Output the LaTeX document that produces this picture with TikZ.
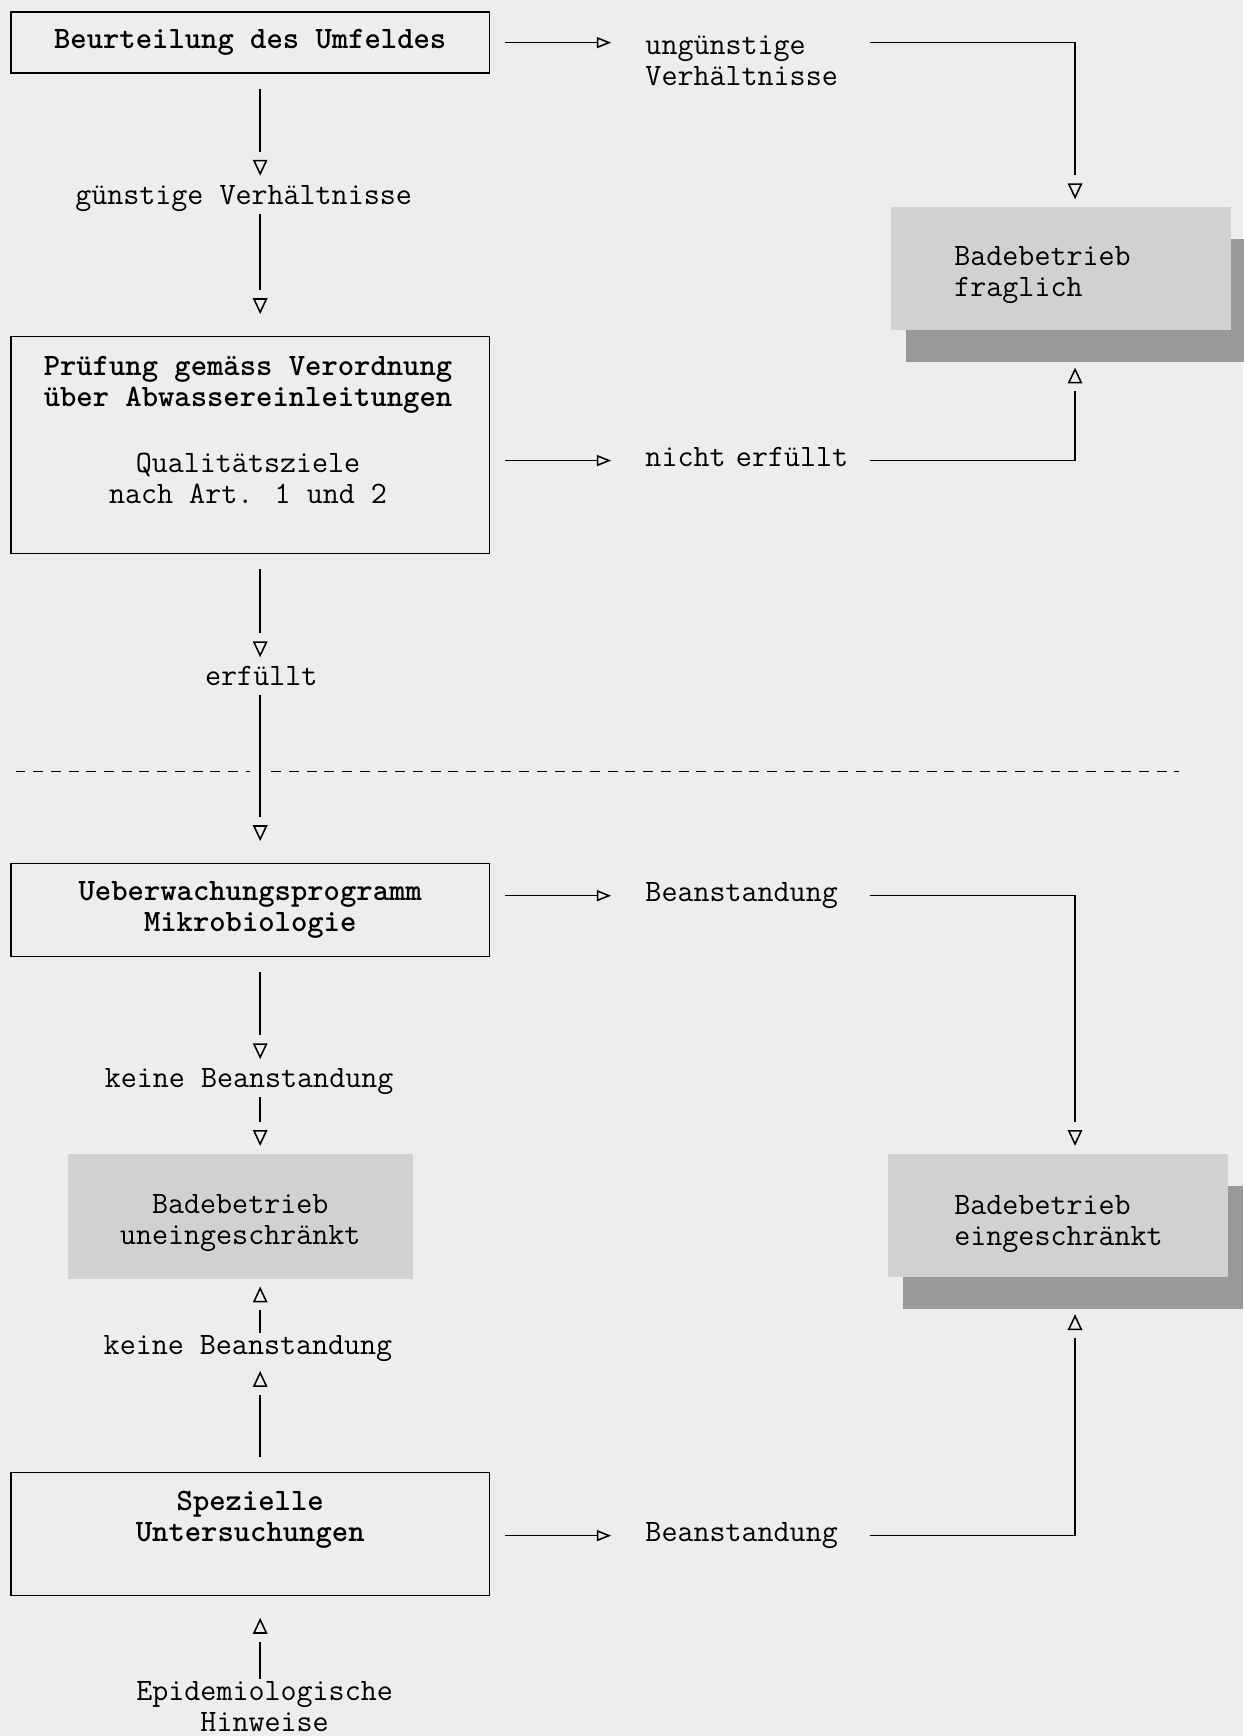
\documentclass[tikz,border=0pt]{standalone}
\usepackage{tikz}
\usetikzlibrary{arrows.meta,shadows}

% offenes Dreieck, Linie endet mit Abstand davor
\pgfdeclarearrow{
  name = gaptri,
  setup code = {
    \pgfarrowssettipend{0pt}
    \pgfarrowssetbackend{-6.8pt}
    \pgfarrowssetlineend{-11.3pt}
  },
  drawing code = {
    \pgfpathmoveto{\pgfqpoint{0pt}{0pt}}
    \pgfpathlineto{\pgfqpoint{-6.8pt}{3.2pt}}
    \pgfpathlineto{\pgfqpoint{-6.8pt}{-3.2pt}}
    \pgfpathclose
    \pgfusepathqstroke
  }
}

\newcommand{\schreib}{\fontsize{16}{15.9}\selectfont\ttfamily}

\begin{document}
\begin{tikzpicture}[x=0.02cm, y=-0.02cm, line width=0.8pt,
    every node/.style={font=\schreib},
    kasten/.style={draw, minimum width=8.64cm, inner sep=0pt, outer sep=0.28cm, font=\schreib\bfseries, align=center},
    lbl/.style={inner sep=0pt, outer sep=0.05cm, text height=0.34cm, text depth=0.12cm},
    mlbl/.style={inner sep=0pt, outer sep=0.05cm, align=center},
    rlbl/.style={anchor=west, text width=4cm, align=left},
    grau/.style={fill=black!18, minimum width=6.14cm, minimum height=2.22cm, inner sep=0pt},
    schatten/.style={drop shadow={shadow xshift=0.28cm, shadow yshift=-0.58cm, fill=black!40, opacity=1}},
    pfeil/.style={-gaptri, shorten >=0.16cm},
    quer/.style={-{Triangle[open, length=7.4pt, width=5.7pt]}, shorten >=0.57cm},
    hoch/.style={shorten >=0.7cm},
    trenn/.style={dash pattern=on 0.18cm off 0.14cm}
  ]
  \path[use as bounding box] (0,0) rectangle (1123,1568);
  \fill[black!7] (0,0) rectangle (1123,1568);
  \coordinate (axis) at (235,0);
  \coordinate (axisR) at (971,0);

  % linke Spalte
  \node[kasten, minimum height=1.1cm] (beurt) at (226,38.5) {Beurteilung des Umfeldes};
  \node[lbl] (guenst) at (220,179) {günstige Verhältnisse};
  \node[kasten, minimum height=3.92cm] (pruef) at (226,402) {};
  \node[mlbl, font=\schreib\bfseries] (pruefT) at (224,347.5) {Prüfung gemäss Verordnung\\über Abwassereinleitungen};
  \node[mlbl] (ziele) at (224,432) {Qualitätsziele\\nach Art. 1 und 2};
  \node[lbl] (erf) at (236,614) {erfüllt};
  \node[kasten, minimum height=1.68cm] (ueberw) at (226,822) {Ueberwachungsprogramm\\Mikrobiologie};
  \node[lbl] (keine1) at (225,977) {keine Beanstandung};
  \node[grau, minimum width=6.24cm, minimum height=2.26cm] (uneing) at (217,1098.5) {};
  \node[mlbl] (uneingT) at (217,1104.5) {Badebetrieb\\uneingeschränkt};
  \node[lbl] (keine2) at (224,1218) {keine Beanstandung};
  \node[kasten, minimum height=2.22cm] (spez) at (226,1385.5) {};
  \node[mlbl, font=\schreib\bfseries] (spezT) at (226,1372.5) {Spezielle\\Untersuchungen};
  \node[mlbl] (epi) at (239,1541.5) {Epidemiologische\\Hinweise};

  % rechte Spalte
  \node[mlbl, rlbl] (unguenst) at (580.5,54.5) {ungünstige\\Verhältnisse};
  \node[grau, schatten] (fragl) at (958,242.5) {};
  \node[mlbl, rlbl] (fraglT) at (859.5,248.5) {Badebetrieb\\fraglich};
  \node[lbl, rlbl] (nicht) at (580.5,416) {nicht erfüllt};
  \node[lbl, rlbl] (beanst1) at (580.5,809) {Beanstandung};
  \node[grau, schatten] (eing) at (955.5,1097.5) {};
  \node[mlbl, rlbl] (eingT) at (859.5,1105.5) {Badebetrieb\\eingeschränkt};
  \node[lbl, rlbl] (beanst2) at (580.5,1387) {Beanstandung};

  % Trennlinie
  \draw[trenn] (14,697) -- (226,697);
  \draw[trenn] (245,697) -- (1065,697);

  \draw[pfeil] (beurt.south -| axis) -- (guenst.north -| axis);
  \draw[pfeil] (guenst.south -| axis) -- (pruef.north -| axis);
  \draw[pfeil] (pruef.south -| axis) -- (erf.north -| axis);
  \draw[pfeil] (erf.south -| axis) -- (ueberw.north -| axis);
  \draw[pfeil] (ueberw.south -| axis) -- (keine1.north -| axis);
  \draw[pfeil] (keine1.south -| axis) -- (uneing.north -| axis);
  \draw[pfeil] (keine2.north -| axis) -- (uneing.south -| axis);
  \draw[pfeil] (spez.north -| axis) -- (keine2.south -| axis);
  \draw[pfeil] (epi.north -| axis) -- (spez.south -| axis);

  \draw[quer] (beurt.east) -- (unguenst.west |- beurt);
  \draw[pfeil] (unguenst.east |- beurt) -| (fragl.north -| axisR);
  \draw[quer] (pruef.east |- nicht) -- (nicht.west);
  \draw[pfeil, hoch] (nicht.east) -| (fragl.south -| axisR);
  \draw[quer] (ueberw.east |- beanst1) -- (beanst1.west);
  \draw[pfeil] (beanst1.east) -| (eing.north -| axisR);
  \draw[quer] (spez.east |- beanst2) -- (beanst2.west);
  \draw[pfeil, hoch] (beanst2.east) -| (eing.south -| axisR);
\end{tikzpicture}
\end{document}
